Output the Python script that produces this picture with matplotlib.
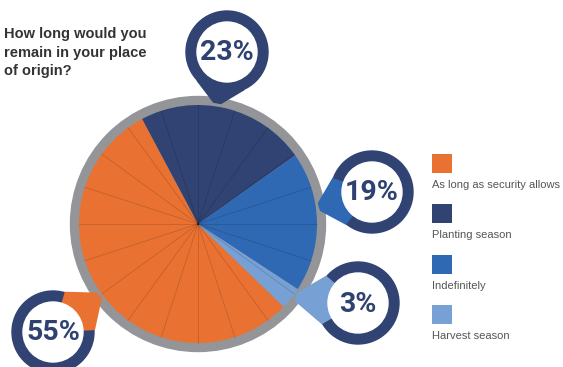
import numpy as np
import matplotlib.pyplot as plt
from matplotlib.patches import Circle, Rectangle, Polygon

# datos de la encuesta
etiquetas = ['As long as security allows', 'Planting season', 'Indefinitely', 'Harvest season']
valores = [55, 23, 19, 3]
colores = ['#E97233', '#304373', '#2F69B3', '#77A0D5']

titulo = 'How long would you\nremain in your place\nof origin?'

AZUL_TEXTO = '#2E4170'
H = 367  # alto en pixeles, el eje y va hacia arriba

fig = plt.figure(figsize=(5.63, 3.67), dpi=100)
ax = fig.add_axes([0, 0, 1, 1])

# torta con aro gris
cx, cy = 198, H - 224
radio = 119
ax.add_patch(Circle((cx, cy), 127.5, color='#939598', zorder=0))
wedges, _ = ax.pie(valores, colors=colores, startangle=-44, counterclock=False,
                   center=(cx, cy), radius=radio, wedgeprops=dict(linewidth=0))

# lineas radiales cada 18 grados
for a in np.deg2rad(np.arange(0, 360, 18)):
    ax.plot([cx, cx + radio * np.cos(a)], [cy, cy + radio * np.sin(a)],
            color='black', alpha=0.16, lw=0.6, zorder=3)


def burbuja(x, y, texto, color, ang_punta, R=41, r=30):
    yc = H - y
    a = np.deg2rad(ang_punta)
    punta = np.array([cx + 122 * np.cos(a), cy + 122 * np.sin(a)])
    phi = np.arctan2(punta[1] - yc, punta[0] - x)
    # punta achatada
    perp = np.array([-np.sin(phi), np.cos(phi)]) * 4
    p1 = (x + (R + 1) * np.cos(phi + 0.62), yc + (R + 1) * np.sin(phi + 0.62))
    p2 = (x + (R + 1) * np.cos(phi - 0.62), yc + (R + 1) * np.sin(phi - 0.62))
    ax.add_patch(Circle((x, yc), R, color='#304373', zorder=4))
    ax.add_patch(Polygon([punta + perp, p1, (x, yc), p2, punta - perp], closed=True,
                         color=color, lw=0, zorder=5))
    ax.add_patch(Circle((x, yc), r, color='white', zorder=6))
    ax.text(x, yc - 1, texto, ha='center', va='center', fontsize=20.5,
            fontfamily='Roboto', fontweight='bold', color=AZUL_TEXTO, zorder=7)


# mismo orden que los valores
posiciones = [(53, 332), (227, 52), (372, 192), (358, 303)]
angulos = [216, 81, 8, -37]
for v, c, (px, py), ang in zip(valores, colores, posiciones, angulos):
    burbuja(px, py, f'{v}%', c, ang)

# titulo
ax.text(4, H - 27, titulo, ha='left', va='top', fontsize=10.5, fontweight='bold',
        fontfamily='Liberation Sans', color='#333333', linespacing=1.42)

# leyenda
for i, (et, c) in enumerate(zip(etiquetas, colores)):
    top = 154 + 50.3 * i
    ax.add_patch(Rectangle((432, H - top - 19), 20, 19, color=c, lw=0))
    ax.text(432, H - (top + 31), et, ha='left', va='center', fontsize=8,
            fontfamily='Liberation Sans', color='#555555')

ax.set_xlim(0, 563)
ax.set_ylim(0, H)
ax.set_aspect('equal')
ax.axis('off')

fig.savefig('out.png', dpi=100)
